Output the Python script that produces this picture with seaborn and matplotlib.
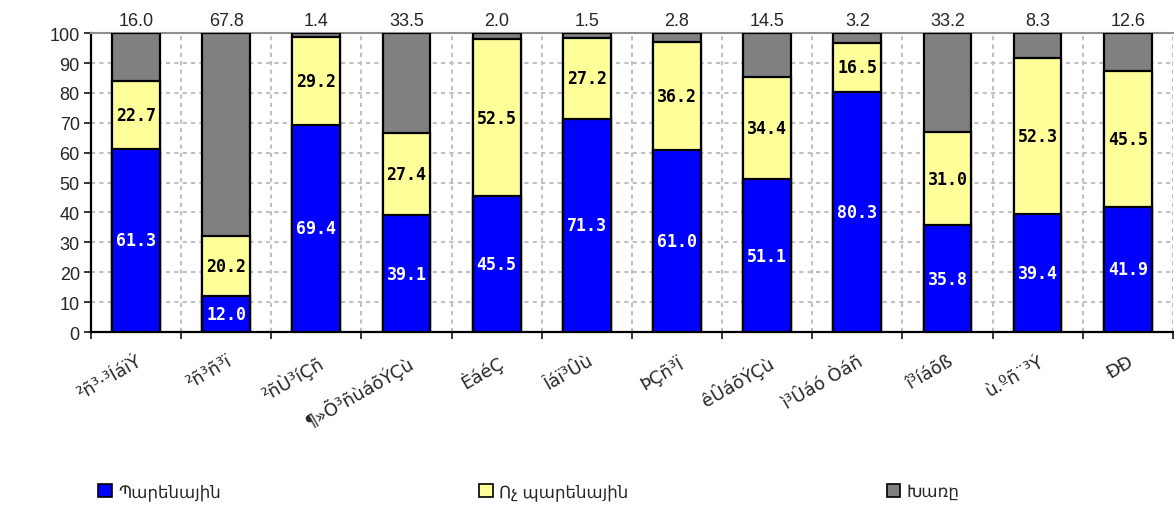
import numpy as np
import pandas as pd
import matplotlib
matplotlib.use("Agg")
import matplotlib.pyplot as plt
from matplotlib.patches import Patch
import seaborn as sns

# Տվյալներ (մարզեր, %)
regions = ["²ñ³·³ÍáïÝ", "²ñ³ñ³ï", "²ñÙ³íÇñ", "¶»Õ³ñùáõÝÇù", "ÈáéÇ", "Îáï³Ûù",
           "ÞÇñ³Ï", "êÛáõÝÇù", "ì³Ûáó Òáñ", "î³íáõß", "ù.ºñ¨³Ý", "ÐÐ"]
food = [61.3, 12.0, 69.4, 39.1, 45.5, 71.3, 61.0, 51.1, 80.3, 35.8, 39.4, 41.9]
nonfood = [22.7, 20.2, 29.2, 27.4, 52.5, 27.2, 36.2, 34.4, 16.5, 31.0, 52.3, 45.5]
mixed = [16.0, 67.8, 1.4, 33.5, 2.0, 1.5, 2.8, 14.5, 3.2, 33.2, 8.3, 12.6]
series_names = ["Պարենային", "Ոչ պարենային", "Խառը"]
colors = ["#0000FF", "#FFFF99", "#808080"]

df = pd.DataFrame({"region": regions, "food": food, "nonfood": nonfood, "mixed": mixed})
df["top1"] = df["food"] + df["nonfood"]
df["top2"] = df["top1"] + df["mixed"]

sns.set_theme(style="white")
plt.rcParams["font.family"] = ["Liberation Sans", "DejaVu Sans"]

fig = plt.figure(figsize=(11.74, 5.10), dpi=100)
ax = fig.add_axes([0.0775, 0.347, 0.9215, 0.586])

# Ստեկավորված սյուներ (վերևից ներքև)
for col, c in zip(["top2", "top1", "food"], colors[::-1]):
    sns.barplot(data=df, x="region", y=col, order=regions, color=c, width=0.53,
                edgecolor="black", linewidth=1.6, saturation=1, ax=ax, zorder=3)

ax.set_xlim(-0.5, len(regions) - 0.5)
ax.set_ylim(0, 100)
ax.set_yticks(range(0, 101, 10))
ax.tick_params(axis="y", labelsize=13, length=5, width=1.3, direction="out", left=True, pad=3)
ax.set_xlabel("")
ax.set_ylabel("")

# x առանցք: սահմանների գծիկներ + պիտակներ կենտրոններում
ax.set_xticks(np.arange(-0.5, len(regions) + 0.5, 1))
ax.set_xticklabels([])
ax.set_xticks(range(len(regions)), regions, minor=True, rotation=30, ha="right",
              rotation_mode="anchor")
for lbl in ax.get_xticklabels(minor=True):
    lbl.set_family(["DejaVu Sans"])
    lbl.set_fontsize(13)
ax.tick_params(axis="x", which="major", length=5, width=1.3, direction="out", bottom=True)
ax.tick_params(axis="x", which="minor", length=0, pad=14)

ax.grid(axis="y", which="major", linestyle=(0, (2, 2)), color="#C0C0C0", linewidth=1.5, zorder=0)
ax.grid(axis="x", which="major", linestyle=(0, (2, 2)), color="#C0C0C0", linewidth=1.5, zorder=0)
ax.set_axisbelow(True)

for side in ["left", "bottom"]:
    ax.spines[side].set_color("black")
    ax.spines[side].set_linewidth(1.6)
ax.spines["top"].set_color("#909090")
ax.spines["top"].set_linewidth(1.5)
ax.spines["right"].set_visible(False)

# Արժեքներ
for i in range(len(regions)):
    ax.text(i, food[i] / 2, f"{food[i]:.1f}", ha="center", va="center", color="white",
            fontsize=12, fontweight="bold", family="DejaVu Sans Mono", zorder=5)
    ax.text(i, food[i] + nonfood[i] / 2, f"{nonfood[i]:.1f}", ha="center", va="center",
            color="black", fontsize=12, fontweight="bold", family="DejaVu Sans Mono", zorder=5)
    ax.annotate(f"{mixed[i]:.1f}", (i, 100), xytext=(0, 3), textcoords="offset points",
                ha="center", va="bottom", fontsize=13, annotation_clip=False)

handles = [Patch(facecolor=c, edgecolor="black", linewidth=1.2) for c in colors]
fig.legend(handles, series_names, loc="lower left", bbox_to_anchor=(0.078, 0.005, 0.745, 0.06),
           mode="expand", ncol=3, frameon=False, fontsize=12, handlelength=0.8,
           handleheight=0.8, handletextpad=0.4, borderaxespad=0)

fig.savefig("out.png", dpi=100)
